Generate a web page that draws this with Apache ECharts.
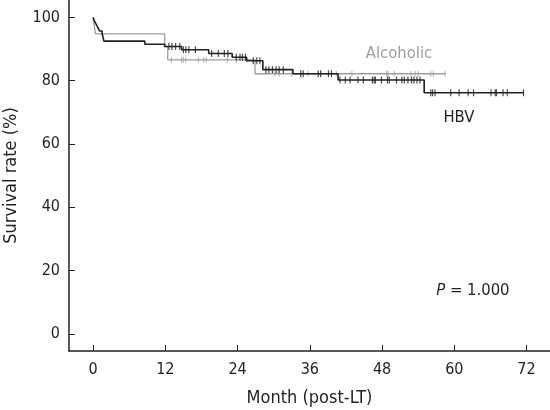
<!DOCTYPE html>
<html>
<head>
<meta charset="utf-8">
<script src="https://cdn.jsdelivr.net/npm/echarts@6/dist/echarts.min.js"></script>
<style>
html,body{margin:0;padding:0;background:#fff;}
#c{width:550px;height:410px;}
</style>
</head>
<body>
<div id="c"></div>
<script>
// ---- data ----
const xTicks = [0, 12, 24, 36, 48, 60, 72];
const yTicks = [0, 20, 40, 60, 80, 100];

// HBV Kaplan-Meier steps: event time (months) and survival (%) after it
const hbvTime = [0, 0.2, 0.5, 0.8, 1.1, 1.5, 1.8, 8.6, 11.9, 14.7, 19.2, 23.1, 25.5, 28.2, 33.2, 40.7, 55.0, 71.5];
const hbvSurv = [100, 99.0, 97.9, 96.8, 95.7, 94.9, 92.5, 91.5, 90.8, 89.8, 88.6, 87.4, 86.3, 83.5, 82.2, 80.2, 76.2, 76.2];
// HBV censored times
const hbvCensor = [12.6, 13.1, 13.7, 14.4, 15.0, 15.4, 15.9, 17.0, 19.7, 20.8, 21.8, 22.4, 23.8, 24.4, 24.8, 25.3,
  26.6, 27.2, 27.7, 28.7, 29.2, 29.8, 30.4, 30.9, 31.6, 34.5, 34.9, 37.4, 37.8, 39.1, 39.6,
  41.0, 41.9, 42.7, 44.0, 44.9, 46.4, 46.7, 46.9, 47.9, 48.9, 49.2, 50.4, 51.3, 51.7, 52.3, 52.9, 53.3, 53.8, 54.3,
  56.1, 56.4, 56.8, 59.4, 60.8, 62.3, 63.2, 66.1, 66.8, 67.0, 68.1, 68.8, 71.5];

// Alcoholic Kaplan-Meier steps
const alcTime = [0, 0.2, 0.4, 11.9, 12.4, 26.9, 58.5];
const alcSurv = [100, 97.4, 94.8, 90.8, 86.6, 82.2, 82.2];
// Alcoholic censored times
const alcCensor = [13.0, 14.7, 15.0, 15.4, 17.5, 18.4, 18.8, 22.3, 23.8, 25.5, 30.2, 30.9, 33.0, 35.7, 40.4,
  43.0, 48.8, 49.0, 50.0, 52.8, 53.5, 54.0, 56.1, 56.5, 58.5];

const seriesNames = ['HBV', 'Alcoholic'];
const pText = '1.000';

// ---- helpers ----
function pairs(t, s) { return t.map((v, i) => [v, s[i]]); }
function survAt(t, times, surv) {
  let v = surv[0];
  for (let i = 0; i < times.length; i++) { if (times[i] <= t) v = surv[i]; }
  return v;
}
function censorPts(c, times, surv) { return c.map(t => [t, survAt(t, times, surv)]); }

const FONT = "'DejaVu Sans Condensed', 'Liberation Sans', sans-serif";
const DARK = '#231f20';
const GRAY = '#9d9d9d';

const chart = echarts.init(document.getElementById('c'), null, {renderer: 'canvas'});
const option = {
  animation: false,
  backgroundColor: '#fff',
  grid: {left: 69, right: 0, top: 0, bottom: 59, containLabel: false, outerBoundsMode: 'none'},
  xAxis: {
    type: 'value', min: -4, max: 75.9,
    name: 'Month (post-LT)', nameLocation: 'middle', nameGap: 38,
    nameTextStyle: {fontFamily: FONT, fontSize: 18, color: DARK},
    axisLine: {show: true, onZero: false, lineStyle: {color: DARK, width: 1.5}},
    axisTick: {show: true, inside: true, length: 6, customValues: xTicks, lineStyle: {color: DARK, width: 1}},
    axisLabel: {customValues: xTicks, margin: 11, fontFamily: FONT, fontSize: 16, color: DARK},
    splitLine: {show: false}
  },
  yAxis: {
    type: 'value', min: -5.4, max: 105.5,
    name: 'Survival rate (%)', nameLocation: 'middle', nameGap: 49,
    nameTextStyle: {fontFamily: FONT, fontSize: 18, color: DARK},
    axisLine: {show: true, onZero: false, lineStyle: {color: DARK, width: 1.5}},
    axisTick: {show: true, inside: true, length: 6, customValues: yTicks, lineStyle: {color: DARK, width: 1}},
    axisLabel: {customValues: yTicks, margin: 9, fontFamily: FONT, fontSize: 16, color: DARK},
    splitLine: {show: false}
  },
  series: [
    {
      name: seriesNames[1], type: 'line', step: 'end', data: pairs(alcTime, alcSurv),
      showSymbol: false, lineStyle: {color: GRAY, width: 1.3}, z: 2
    },
    {
      name: seriesNames[1] + ' censored', type: 'scatter', data: censorPts(alcCensor, alcTime, alcSurv),
      symbol: 'rect', symbolSize: [1, 6], itemStyle: {color: GRAY}, z: 2
    },
    {
      name: seriesNames[0], type: 'line', step: 'end', data: pairs(hbvTime, hbvSurv),
      showSymbol: false, lineStyle: {color: DARK, width: 1.6}, z: 3
    },
    {
      name: seriesNames[0] + ' censored', type: 'scatter', data: censorPts(hbvCensor, hbvTime, hbvSurv),
      symbol: 'rect', symbolSize: [1.2, 7], itemStyle: {color: DARK}, z: 3
    }
  ]
};
chart.setOption(option);

// annotation text placed by data coordinates
function px(pt) { return chart.convertToPixel({gridIndex: 0}, pt); }
const aPos = px([45.3, 88.5]);
const hPos = px([58.2, 68.3]);
const pPos = px([57.0, 13.5]);
chart.setOption({
  graphic: [
    {type: 'text', x: aPos[0], y: aPos[1], style: {text: seriesNames[1], fontFamily: FONT, fontSize: 16.5, fill: GRAY, textVerticalAlign: 'middle'}},
    {type: 'text', x: hPos[0], y: hPos[1], style: {text: seriesNames[0], fontFamily: FONT, fontSize: 16.5, fill: DARK, textVerticalAlign: 'middle'}},
    {type: 'text', x: pPos[0], y: pPos[1], style: {
      text: '{i|P} = ' + pText, fontFamily: FONT, fontSize: 16.5, fill: DARK, textVerticalAlign: 'middle',
      rich: {i: {fontStyle: 'italic', fontFamily: FONT, fontSize: 16.5, fill: DARK}}
    }}
  ]
});
</script>
</body>
</html>
